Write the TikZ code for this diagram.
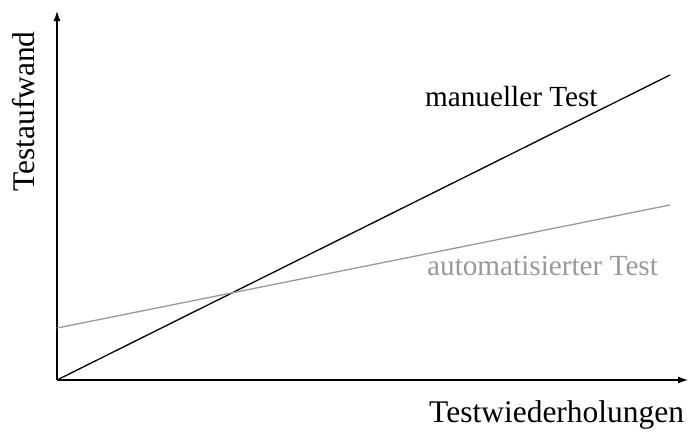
\documentclass[tikz,border=0pt]{standalone}
\usepackage{fontspec}
\setmainfont{Liberation Serif}
\usetikzlibrary{arrows.meta}
\definecolor{autogray}{gray}{0.6}
\begin{document}
\begin{tikzpicture}[x=1pt,y=-1pt,
  axis/.style={line width=1.2pt,-{Latex[length=10pt,width=7pt]}},
  curve/.style={line width=1.3pt},
  lbl/.style={inner sep=0pt,font=\fontsize{29.2}{35}\selectfont},
  axlbl/.style={inner sep=0pt,font=\fontsize{31.5}{38}\selectfont}]
\useasboundingbox (0,0) rectangle (688,434);
% axes
\coordinate (O) at (57,380);
\coordinate (ytip) at (57,11);
\coordinate (xtip) at (688,380);
\draw[axis] (O) -- (ytip);
\draw[axis] (O) -- (xtip);
% cost lines
\coordinate (m1) at (670,75);
\coordinate (a0) at (57,328);
\coordinate (a1) at (670,205);
\draw[curve] (O) -- (m1);
\draw[curve,autogray] (a0) -- (a1);
% labels
\node[lbl,anchor=base west] (man) at (425,106) {manueller Test};
\node[lbl,anchor=base west,text=autogray] (auto) at (427,275) {automatisierter Test};
\node[axlbl,anchor=base west] (xl) at (429,422) {Testwiederholungen};
\node[axlbl,anchor=base west,rotate=90] (yl) at (34,192) {Testaufwand};
\end{tikzpicture}
\end{document}
